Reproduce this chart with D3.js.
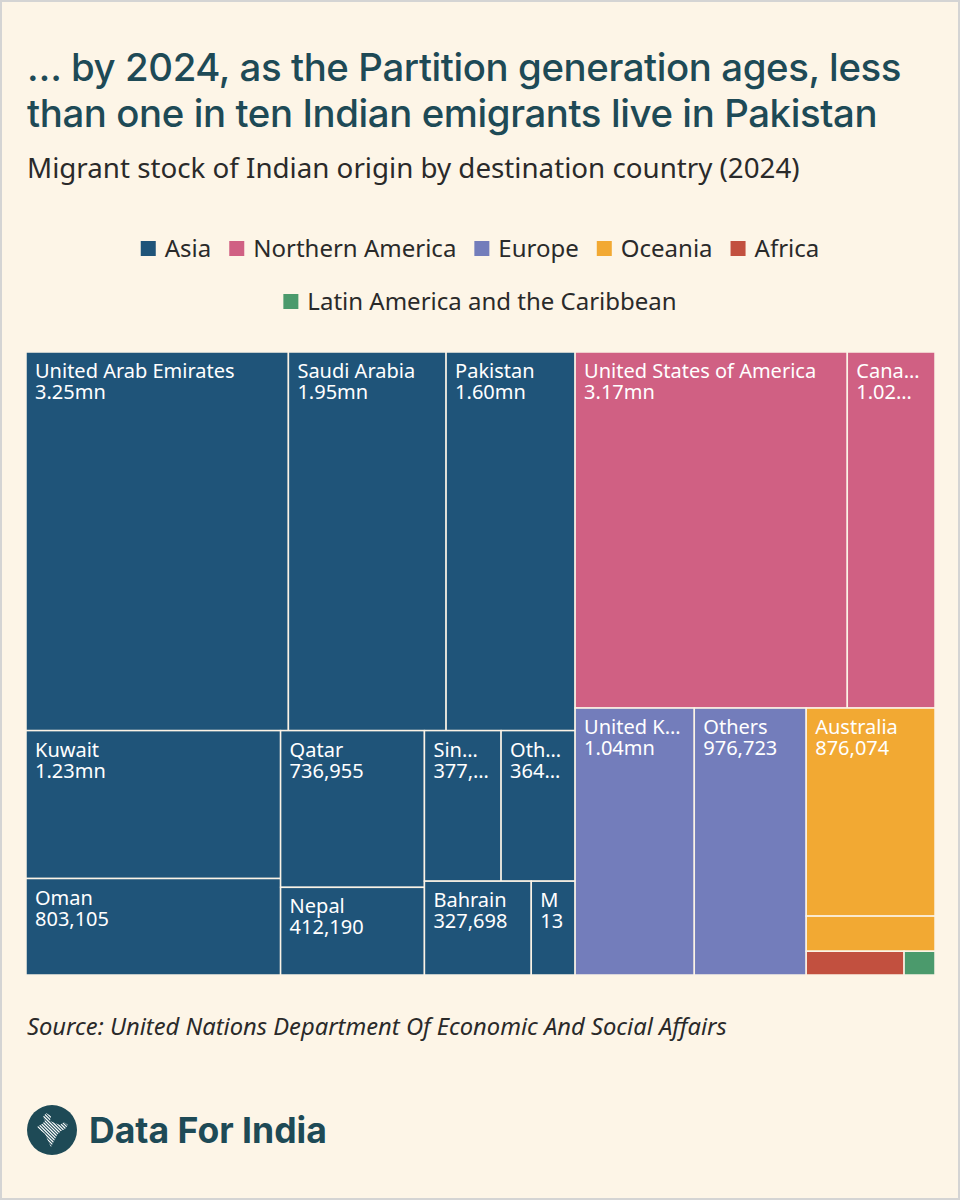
<!DOCTYPE html>
<html>
<head>
<meta charset="utf-8">
<title>Migrant stock of Indian origin by destination country (2024)</title>
<script src="https://d3js.org/d3.v7.min.js"></script>
<style>
  body { margin: 0; background: #fdf5e7; }
  svg text { font-family: "Noto Sans", sans-serif; }
</style>
</head>
<body>
<div id="chart"></div>
<script>
// regions, in legend order
var regions = ["Asia", "Northern America", "Europe", "Oceania", "Africa", "Latin America and the Caribbean"];
var regionColors = ["#1f5479", "#d06083", "#737dbb", "#f2a933", "#c2503f", "#4b9a6c"];

// destination countries per region
var asiaCountries = ["United Arab Emirates", "Saudi Arabia", "Pakistan", "Kuwait", "Oman", "Qatar", "Nepal", "Singapore", "Others", "Bahrain", "Malaysia"];
var asiaValues = [3248000, 1952000, 1597000, 1231000, 803105, 736955, 412190, 377400, 364300, 327698, 134500];
var naCountries = ["United States of America", "Canada"];
var naValues = [3168000, 1021000];
var europeCountries = ["United Kingdom", "Others"];
var europeValues = [1040000, 976723];
var oceaniaCountries = ["Australia", "Others"];
var oceaniaValues = [876074, 148000];
var africaCountries = ["Others"];
var africaValues = [76000];
var latamCountries = ["Others"];
var latamValues = [24000];

var W = 960, H = 1200;
var titleLines = ["… by 2024, as the Partition generation ages, less",
                  "than one in ten Indian emigrants live in Pakistan"];
var subtitle = "Migrant stock of Indian origin by destination country (2024)";
var source = "Source: United Nations Department Of Economic And Social Affairs";

var svg = d3.select("#chart").append("svg")
    .attr("width", W)
    .attr("height", H);

svg.append("rect")
    .attr("x", 1).attr("y", 1)
    .attr("width", W - 2).attr("height", H - 2)
    .attr("fill", "#fdf5e7")
    .attr("stroke", "#d4d4d4")
    .attr("stroke-width", 2);

// scale a text's font so it spans the given width
function fitWidth(t, base, target) {
    t.style("font-size", base + "px");
    var len = t.node().getComputedTextLength();
    var size = base * target / len;
    t.style("font-size", size.toFixed(2) + "px");
    return size;
}

// title
var titleColor = "#1e4a56";
var titleSize = 36;
titleLines.forEach(function(line, i) {
    var t = svg.append("text")
        .attr("x", 27)
        .attr("y", 81 + i * 46)
        .attr("fill", titleColor)
        .style("font-family", "Inter, 'Noto Sans', sans-serif")
        .style("font-weight", 500)
        .style("letter-spacing", "-0.4px")
        .text(line);
    if (i == 0) titleSize = fitWidth(t, 36, 873);
    else t.style("font-size", titleSize.toFixed(2) + "px");
});

var sub = svg.append("text")
    .attr("x", 27)
    .attr("y", 178)
    .attr("fill", "#2a2a2a")
    .text(subtitle);
fitWidth(sub, 24, 773);

// legend, two centred rows
var legendRows = [regions.slice(0, 5), regions.slice(5)];
legendRows.forEach(function(row, r) {
    var g = svg.append("g");
    var x = 0;
    row.forEach(function(name) {
        var idx = regions.indexOf(name);
        g.append("rect")
            .attr("x", x).attr("y", -16)
            .attr("width", 15).attr("height", 15)
            .attr("fill", regionColors[idx]);
        var t = g.append("text")
            .attr("x", x + 24)
            .attr("y", 0)
            .attr("fill", "#2a2a2a")
            .style("font-size", "24px")
            .text(name);
        x += 24 + t.node().getComputedTextLength() + 18;
    });
    x -= 18;
    g.attr("transform", "translate(" + ((W - x) / 2) + "," + (257 + r * 53) + ")");
});

// treemap
var tm = {x: 26, y: 352, w: 909, h: 623};
var groups = [
    [asiaCountries, asiaValues],
    [naCountries, naValues],
    [europeCountries, europeValues],
    [oceaniaCountries, oceaniaValues],
    [africaCountries, africaValues],
    [latamCountries, latamValues]
];
var tree = {name: "World", children: regions.map(function(reg, i) {
    return {name: reg, children: groups[i][0].map(function(c, j) {
        return {name: c, value: groups[i][1][j]};
    })};
})};

var root = d3.hierarchy(tree)
    .sum(function(d) { return d.value || 0; })
    .sort(function(a, b) { return b.value - a.value; });

d3.treemap()
    .size([tm.w, tm.h])
    .tile(d3.treemapSquarify)
    (root);

var color = d3.scaleOrdinal().domain(regions).range(regionColors);

var plot = svg.append("g")
    .attr("transform", "translate(" + tm.x + "," + tm.y + ")");

var leaves = plot.selectAll("g.leaf")
    .data(root.leaves())
    .join("g")
    .attr("class", "leaf")
    .attr("transform", function(d) { return "translate(" + d.x0 + "," + d.y0 + ")"; });

leaves.append("rect")
    .attr("width", function(d) { return d.x1 - d.x0; })
    .attr("height", function(d) { return d.y1 - d.y0; })
    .attr("fill", function(d) { return color(d.parent.data.name); })
    .attr("stroke", "#fbf3e6")
    .attr("stroke-width", 1.5);

function fmt(v) {
    if (v >= 1e6) return (v / 1e6).toFixed(2) + "mn";
    return d3.format(",")(v);
}

// shorten a label so it fits inside the cell
function fitText(sel, str, avail) {
    sel.text(str);
    if (sel.node().getComputedTextLength() <= avail) return;
    for (var n = str.length - 1; n >= 1; n--) {
        sel.text(str.slice(0, n).trim() + "…");
        if (sel.node().getComputedTextLength() <= avail) return;
    }
    // very narrow cells: cut without ellipsis
    for (var k = str.length; k >= 1; k--) {
        sel.text(str.slice(0, k));
        if (sel.node().getComputedTextLength() <= avail + 5 || k == 1) return;
    }
}

leaves.each(function(d) {
    var w = d.x1 - d.x0, h = d.y1 - d.y0;
    if (w < 30 || h < 50) return;
    var g = d3.select(this);
    var avail = w - 21;
    var t1 = g.append("text")
        .attr("x", 9).attr("y", 26)
        .attr("fill", "#fff")
        .style("font-size", "20px");
    fitText(t1, d.data.name, avail);
    var t2 = g.append("text")
        .attr("x", 9).attr("y", 47)
        .attr("fill", "#fff")
        .style("font-size", "20px");
    fitText(t2, fmt(d.data.value), avail);
});

// source
var src = svg.append("text")
    .attr("x", 27)
    .attr("y", 1035)
    .attr("fill", "#2a2a2a")
    .style("font-style", "italic")
    .text(source);
fitWidth(src, 21, 700);

// logo
var logo = svg.append("g").attr("transform", "translate(52,1130)");
logo.append("circle").attr("r", 25).attr("fill", "#1e4a56");
var defs = svg.append("defs");
defs.append("clipPath").attr("id", "india")
    .append("polygon")
    .attr("points", "-6,-17 -1,-14 -2,-9 3,-7 8,-5 12,-8 16,-5 13,-1 9,1 5,5 2,11 -1,17 -4,11 -7,4 -12,0 -15,-3 -10,-6 -7,-9 -9,-13");
var hatch = logo.append("g").attr("clip-path", "url(#india)");
d3.range(-30, 31, 3.2).forEach(function(o) {
    hatch.append("line")
        .attr("x1", o - 20).attr("y1", -20)
        .attr("x2", o + 20).attr("y2", 20)
        .attr("stroke", "#fff")
        .attr("stroke-width", 1.2);
});

var brand = svg.append("text")
    .attr("x", 89)
    .attr("y", 1143)
    .attr("fill", "#1e4a56")
    .style("font-family", "Inter, 'Noto Sans', sans-serif")
    .style("font-weight", 700)
    .text("Data For India");
fitWidth(brand, 33, 238);
</script>
</body>
</html>
